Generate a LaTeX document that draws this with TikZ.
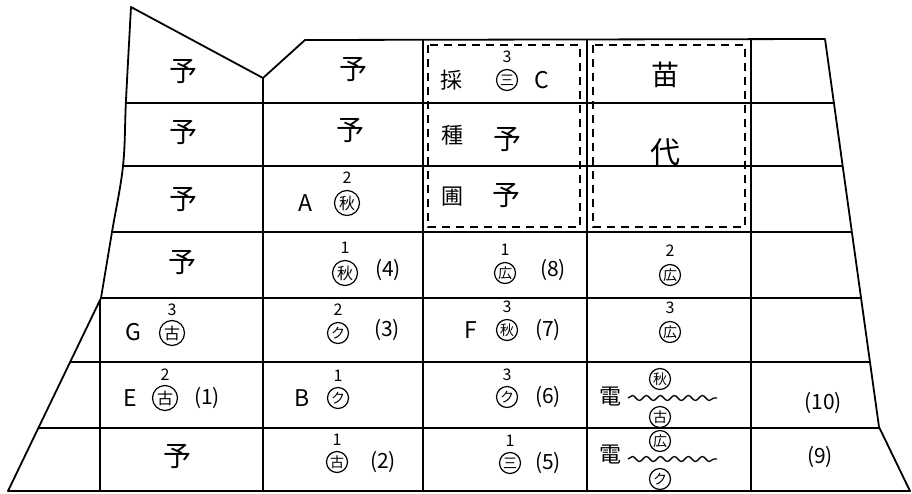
\documentclass[tikz,border=0pt]{standalone}
\usepackage{fontspec}
\setmainfont{Noto Sans CJK JP}
\usetikzlibrary{decorations.pathmorphing}
\newcommand\myoutline{(131,7) -- (263,78) -- (305,40) -- (825,39) -- (879,427) -- (910,491) -- (8,491) -- (101,298) -- plot[smooth, tension=0.6] coordinates {(101,298) (112,232) (123,166) (126,100) (131,7)} -- cycle}
\begin{document}
\begin{tikzpicture}[x=1pt,y=-1pt,
  rule/.style={line width=1.8pt, line join=round},
  dashbox/.style={line width=1.4pt, dash pattern=on 8pt off 6pt},
  bigk/.style={font=\fontsize{28}{28}\selectfont, inner sep=0pt},
  midk/.style={font=\fontsize{22}{22}\selectfont, inner sep=0pt},
  lat/.style={font=\fontsize{23}{23}\selectfont, inner sep=0pt},
  num/.style={font=\fontsize{21}{21}\selectfont, inner sep=0pt},
  circ/.style={circle, draw, line width=1.2pt, minimum size=21pt, inner sep=0pt, font=\fontsize{14}{14}\selectfont},
  bigcirc/.style={circ, minimum size=25pt, font=\fontsize{16}{16}\selectfont},
  supn/.style={font=\fontsize{16}{16}\selectfont, inner sep=0pt},
  wavy/.style={line width=1.3pt, decorate, decoration={snake, amplitude=2.5pt, segment length=14pt}},
]
\useasboundingbox (0,0) rectangle (912,493);

% grid lines clipped to outline
\begin{scope}
  \clip \myoutline;
  \foreach \yy in {103,166,232,298,362,428} \draw[rule] (0,\yy) -- (912,\yy);
  \foreach \xx in {263,423,587,751} \draw[rule] (\xx,0) -- (\xx,493);
  \draw[rule] (100,298) -- (100,493);
\end{scope}
\draw[rule] \myoutline;

% dashed boxes
\draw[dashbox] (428,45) rectangle (580,227);
\draw[dashbox] (593,45) rectangle (745,227);

% Row 1
\node[bigk] (r1c1) at (183,72) {予};
\node[bigk] (r1c2) at (353,70) {予};
\node[midk] (r1c3a) at (451,80) {採};
\node[circ] (r1c3b) at (507,80) {三};
\node[supn] (r1c3s) at (507,57) {3};
\node[lat] (r1c3c) at (542,80) {C};
\node[bigk] (r1c4) at (665,75) {苗};
% Row 2
\node[bigk] (r2c1) at (183,133) {予};
\node[bigk] (r2c2) at (350,131) {予};
\node[midk] (r2c3a) at (452,135) {種};
\node[bigk] (r2c3b) at (507,140) {予};
\node[font=\fontsize{30}{30}\selectfont, inner sep=0pt] (r2c4) at (665,152) {代};
% Row 3
\node[bigk] (r3c1) at (183,200) {予};
\node[lat] (r3c2a) at (305,203) {A};
\node[bigcirc] (r3c2b) at (347,203) {秋};
\node[supn] (r3c2s) at (347,178) {2};
\node[midk] (r3c3a) at (452,197) {圃};
\node[bigk] (r3c3b) at (506,196) {予};
% Row 4
\node[bigk] (r4c1) at (182,263) {予};
\node[bigcirc] (r4c2a) at (345,273) {秋};
\node[supn] (r4c2s) at (345,248) {1};
\node[num] (r4c2b) at (388,270) {(4)};
\node[circ] (r4c3a) at (505,273) {広};
\node[supn] (r4c3s) at (505,250) {1};
\node[num] (r4c3b) at (553,270) {(8)};
\node[circ] (r4c4a) at (670,275) {広};
\node[supn] (r4c4s) at (670,251) {2};
% Row 5
\node[lat] (r5c1a) at (133,332) {G};
\node[bigcirc] (r5c1b) at (172,333) {古};
\node[supn] (r5c1s) at (172,310) {3};
\node[circ] (r5c2a) at (338,333) {ク};
\node[supn] (r5c2s) at (338,310) {2};
\node[num] (r5c2b) at (387,330) {(3)};
\node[lat] (r5c3a) at (471,330) {F};
\node[circ] (r5c3b) at (507,330) {秋};
\node[supn] (r5c3s) at (507,307) {3};
\node[num] (r5c3c) at (548,330) {(7)};
\node[circ] (r5c4a) at (670,332) {広};
\node[supn] (r5c4s) at (670,308) {3};
% Row 6
\node[lat] (r6c1a) at (130,398) {E};
\node[bigcirc] (r6c1b) at (165,398) {古};
\node[supn] (r6c1s) at (165,375) {2};
\node[num] (r6c1c) at (207,398) {(1)};
\node[lat] (r6c2a) at (302,398) {B};
\node[circ] (r6c2b) at (338,398) {ク};
\node[supn] (r6c2s) at (338,376) {1};
\node[circ] (r6c3a) at (507,397) {ク};
\node[supn] (r6c3s) at (507,375) {3};
\node[num] (r6c3b) at (548,397) {(6)};
\node[midk] (r6c4a) at (610,397) {電};
\node[circ] (r6c4b) at (660,379) {秋};
\node[circ] (r6c4c) at (660,417) {古};
\coordinate (w1a) at (628,398);
\coordinate (w1b) at (717,398);
\draw[wavy] (w1a) -- (w1b);
\node[num] (r6c5) at (823,403) {(10)};
% Row 7
\node[bigk] (r7c1) at (177,457) {予};
\node[circ] (r7c2a) at (337,462) {古};
\node[supn] (r7c2s) at (337,440) {1};
\node[num] (r7c2b) at (383,462) {(2)};
\node[circ] (r7c3a) at (510,463) {三};
\node[supn] (r7c3s) at (510,441) {1};
\node[num] (r7c3b) at (548,463) {(5)};
\node[midk] (r7c4a) at (610,455) {電};
\node[circ] (r7c4b) at (660,441) {広};
\node[circ] (r7c4c) at (660,479) {ク};
\coordinate (w2a) at (628,459);
\coordinate (w2b) at (717,459);
\draw[wavy] (w2a) -- (w2b);
\node[num] (r7c5) at (820,457) {(9)};
\end{tikzpicture}
\end{document}
